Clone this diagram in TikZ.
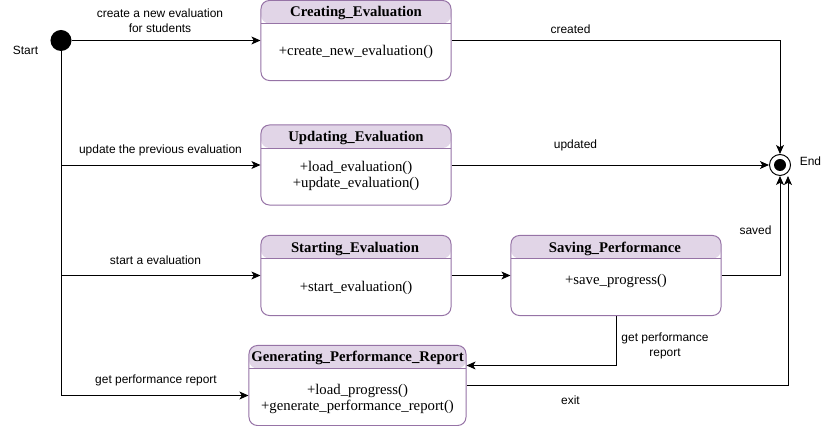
\documentclass[tikz,border=0pt]{standalone}
\usepackage{fontspec}
\setmainfont{Liberation Serif}
\setsansfont{Liberation Sans}
\usetikzlibrary{arrows.meta}
\definecolor{headfill}{HTML}{E1D5E7}
\definecolor{headline}{HTML}{9673A6}
\begin{document}
\begin{tikzpicture}[x=0.025cm,y=-0.025cm,
  evalbox/.style={draw=headline,fill=white,rounded corners=6pt,line width=0.7pt,minimum height=2cm,inner sep=0pt,
    path picture={\fill[headfill] (path picture bounding box.north west) rectangle ([yshift=-0.575cm]path picture bounding box.north east);
      \draw[headline,line width=0.7pt] ([yshift=-0.575cm]path picture bounding box.north west) -- ([yshift=-0.575cm]path picture bounding box.north east);}},
  boxtitle/.style={font=\fontsize{10.5}{12}\selectfont\bfseries,inner sep=0pt},
  boxops/.style={font=\fontsize{10.5}{12}\selectfont,align=center,inner sep=0pt},
  lbl/.style={font=\sffamily\fontsize{8.5}{10.6}\selectfont,align=center,inner sep=0pt},
  arr/.style={-{Stealth[length=6.4pt,width=5.6pt,inset=1.6pt]},line width=0.7pt}]
\useasboundingbox (0,0) rectangle (831,426);

\node[circle,fill=black,minimum size=0.525cm,inner sep=0pt] (start) at (61,40.5) {};
\node[lbl] (startlbl) at (25.5,50) {Start};
\node[circle,draw=black,line width=0.7pt,minimum size=0.525cm,inner sep=0pt] (end) at (780,165) {};
\node[circle,fill=black,minimum size=0.3cm,inner sep=0pt] (enddot) at (end) {};
\node[lbl] (endlbl) at (810.5,161.5) {End};

\node[evalbox,minimum width=4.75cm] (create) at (356,40.5) {};
\node[boxtitle] (createT) at (356,13.5) {Creating\_Evaluation};
\node[boxops] (createO) at (356,52) {+create\_new\_evaluation()};

\node[evalbox,minimum width=4.75cm] (update) at (356,165) {};
\node[boxtitle] (updateT) at (356,138) {Updating\_Evaluation};
\node[boxops] (updateO) at (356,176) {+load\_evaluation()\\+update\_evaluation()};

\node[evalbox,minimum width=4.75cm] (starting) at (356,275.5) {};
\node[boxtitle] (startingT) at (355,249) {Starting\_Evaluation};
\node[boxops] (startingO) at (356,288) {+start\_evaluation()};

\node[evalbox,minimum width=5.25cm] (save) at (616,275.5) {};
\node[boxtitle] (saveT) at (615,249) {Saving\_Performance};
\node[boxops] (saveO) at (616,281) {+save\_progress()};

\node[evalbox,minimum width=5.425cm] (gen) at (357.5,385.5) {};
\node[boxtitle] (genT) at (357.5,358) {Generating\_Performance\_Report};
\node[boxops] (genO) at (357.5,399) {+load\_progress()\\+generate\_performance\_report()};

\draw[arr] (start) -- (create.west);
\draw[arr] (start.south) |- (update.west);
\draw[arr] (start.south) |- (starting.west);
\draw[arr] (start.south) |- ([yshift=-0.25cm]gen.west);
\draw[arr] (create.east) -| (end.north);
\draw[arr] (update.east) -- (end.west);
\draw[arr] (starting.east) -- (save.west);
\draw[arr] (save.east) -| (end.south);
\draw[arr] (save.south) |- ([yshift=0.5cm]gen.east);
\draw[arr] (gen.east) -| ([xshift=0.2cm]end.south);

\node[lbl] (l1) at (160,20.5) {create a new evaluation\\for students};
\node[lbl] (l2) at (160.5,150) {update the previous evaluation};
\node[lbl] (l3) at (155.5,260) {start a evaluation};
\node[lbl] (l4) at (156,380) {get performance report};
\node[lbl] (l5) at (570.5,29) {created};
\node[lbl] (l6) at (575.5,145) {updated};
\node[lbl] (l7) at (755.5,230) {saved};
\node[lbl] (l8) at (665,345.5) {get performance\\report};
\node[lbl] (l9) at (570.5,400) {exit};

\end{tikzpicture}
\end{document}
